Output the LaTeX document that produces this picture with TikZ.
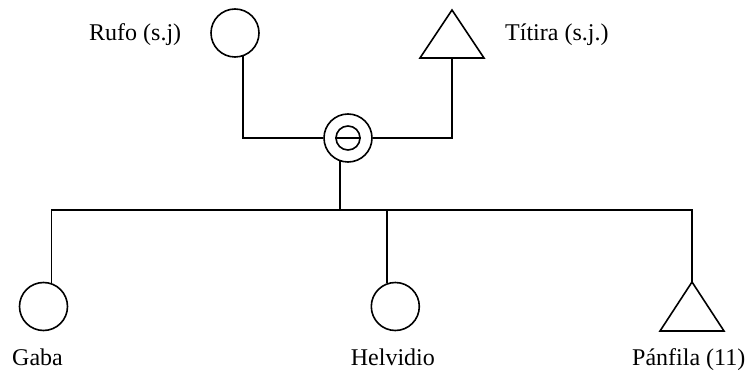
\documentclass[tikz,border=0pt]{standalone}
\usepackage{fontspec}
\setmainfont{Liberation Serif}
\begin{document}
\begin{tikzpicture}[x=1pt,y=-1pt,
  link/.style={line width=1.6pt},
  person/.style={circle,draw,line width=1.6pt,minimum size=48pt,inner sep=0pt},
  lbl/.style={anchor=base west,inner sep=0pt,font=\fontsize{24}{28}\selectfont}]
\useasboundingbox (0,0) rectangle (751,371);
% parents
\node[person] (rufo) at (235,33) {};
\draw[link] (452,10) coordinate (titA) -- (484,58) -- (420,58) -- cycle;
\coordinate (titB) at (452,58);
% couple symbol
\node[person] (couple) at (348,138) {};
\node[circle,draw,line width=1.6pt,minimum size=24pt,inner sep=0pt] (inner) at (348,138) {};
\draw[link] (inner.west) -- (inner.east);
% children
\node[person] (gaba) at (43.5,306.5) {};
\node[person] (helv) at (395.3,306.5) {};
\draw[link] (692,282) coordinate (panA) -- (724,331) -- (660,331) -- cycle;
\coordinate (barR) at (692,210);
% connectors
\draw[link] (rufo.-71) |- (couple.west);
\draw[link] (titB) |- (couple.east);
\draw[link] (couple.-109) -- (couple.-109 |- barR);
\draw[link] (gaba.71) |- (barR) -- (panA);
\draw[link] (helv.109) -- (helv.109 |- barR);
% labels
\node[lbl] (lrufo) at (89,41) {Rufo (s.j)};
\node[lbl] (ltit) at (505,41) {Títira (s.j.)};
\node[lbl] (lgaba) at (12,365.5) {Gaba};
\node[lbl] (lhelv) at (350.7,365.5) {Helvidio};
\node[lbl] (lpan) at (632,365.5) {Pánfila (11)};
\end{tikzpicture}
\end{document}
